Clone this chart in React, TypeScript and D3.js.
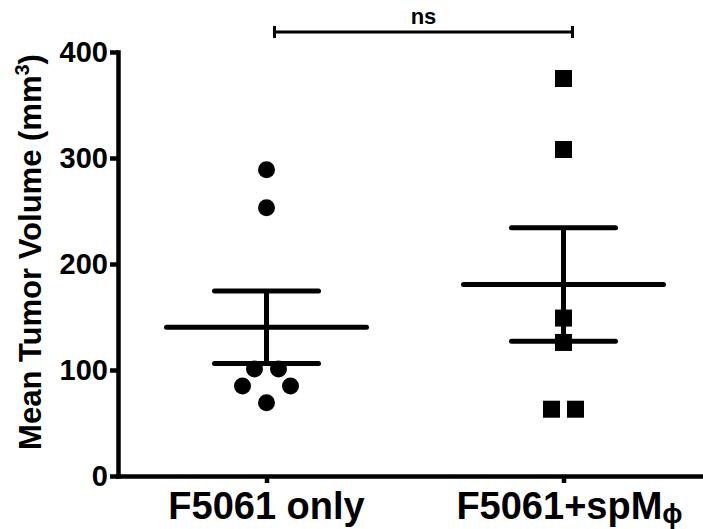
import { useEffect, useMemo, useRef } from "react";
import * as d3 from "d3";

const WIDTH = 703;
const HEIGHT = 529;

// groups shown on the x axis (second one has a subscript phi)
const categories = ["F5061 only", "F5061+spM"];
const categorySubs = ["", "\u03d5"];

// individual tumor volumes (mm3)
const onlyValues = [289, 253, 101, 101, 85, 85, 69];
const spmValues = [375, 308, 149, 126, 63, 63];

const yTicks = [0, 100, 200, 300, 400];
const sigLabel = "ns";

const MARKER = 17;
const MIN_DIST = 20;
const BASE_SPACING = 24;

// spread points with equal values side by side, widen a row if it bumps the row above
const swarm = (values: number[], y: d3.ScaleLinear<number, number>) => {
  const rows = d3.groups(values, (v) => v).sort((a, b) => b[0] - a[0]);
  const placed: { v: number; dx: number; y: number }[] = [];
  for (const [v, items] of rows) {
    const n = items.length;
    let sp = BASE_SPACING;
    let pts: { v: number; dx: number; y: number }[] = [];
    for (let k = 0; k < 10; k++) {
      pts = items.map((_, i) => ({ v, dx: (i - (n - 1) / 2) * sp, y: y(v) }));
      const hit = pts.some((p) =>
        placed.some((q) => Math.hypot(p.dx - q.dx, p.y - q.y) < MIN_DIST)
      );
      if (!hit) break;
      sp += BASE_SPACING;
    }
    placed.push(...pts);
  }
  return placed;
};

const stats = (values: number[]) => {
  const mean = d3.mean(values) || 0;
  const sem = (d3.deviation(values) || 0) / Math.sqrt(values.length);
  return { mean, lo: mean - sem, hi: mean + sem };
};

export default function App() {
  const yAxisRef = useRef<SVGGElement>(null);
  const xAxisRef = useRef<SVGGElement>(null);

  const yScale = useMemo(
    () => d3.scaleLinear().domain([0, 400]).range([476, 52]),
    []
  );
  const xScale = useMemo(
    () => d3.scalePoint<string>().domain(categories).range([118, 712]).padding(0.5),
    []
  );

  useEffect(() => {
    const gy = d3.select(yAxisRef.current);
    gy.selectAll("*").remove();
    gy.call(d3.axisLeft(yScale).tickValues(yTicks).tickSize(8).tickSizeOuter(0).tickPadding(2));
    gy.select(".domain").attr("stroke-width", 4.5).attr("stroke-linecap", "square");
    gy.selectAll(".tick line").attr("stroke-width", 4.5);
    gy.selectAll(".tick text")
      .attr("font-family", "'Liberation Sans', Arial, sans-serif")
      .attr("font-weight", "bold")
      .attr("font-size", 29)
      .attr("fill", "#000");

    const gx = d3.select(xAxisRef.current);
    gx.selectAll("*").remove();
    gx.call(d3.axisBottom(xScale).tickSize(7).tickSizeOuter(0).tickFormat(() => ""));
    gx.select(".domain").attr("stroke-width", 4.5).attr("stroke-linecap", "square");
    gx.selectAll(".tick line").attr("stroke-width", 4.5);
  }, [xScale, yScale]);

  const groups = [onlyValues, spmValues].map((vals, i) => ({
    cx: xScale(categories[i]) || 0,
    pts: swarm(vals, yScale),
    s: stats(vals),
  }));

  const bx0 = (xScale(categories[0]) || 0) + 8;
  const bx1 = (xScale(categories[1]) || 0) + 9;
  const by = 32;

  return (
    <svg
      width={WIDTH}
      height={HEIGHT}
      style={{ position: "absolute", left: 0, top: 0, background: "#fff" }}
      fontFamily="'Liberation Sans', Arial, sans-serif"
      fontWeight="bold"
    >
      {groups.map((g, i) => (
        <g key={i}>
          {g.pts.map((p, j) =>
            i === 0 ? (
              <circle key={j} cx={g.cx + p.dx} cy={p.y} r={MARKER / 2} fill="#000" />
            ) : (
              <rect
                key={j}
                x={g.cx + p.dx - MARKER / 2}
                y={p.y - MARKER / 2}
                width={MARKER}
                height={MARKER}
                fill="#000"
              />
            )
          )}
          <g stroke="#000" strokeWidth={5} strokeLinecap="round">
            <line x1={g.cx - 100} x2={g.cx + 100} y1={yScale(g.s.mean)} y2={yScale(g.s.mean)} />
            <line x1={g.cx} x2={g.cx} y1={yScale(g.s.lo)} y2={yScale(g.s.hi)} strokeLinecap="butt" />
            <line x1={g.cx - 52} x2={g.cx + 52} y1={yScale(g.s.hi)} y2={yScale(g.s.hi)} />
            <line x1={g.cx - 52} x2={g.cx + 52} y1={yScale(g.s.lo)} y2={yScale(g.s.lo)} />
          </g>
        </g>
      ))}

      <g ref={yAxisRef} transform="translate(118,0)" />
      <g ref={xAxisRef} transform="translate(0,476)" />

      {categories.map((c, i) => (
        <text
          key={c}
          x={(xScale(c) || 0) + (categorySubs[i] ? 6 : 0)}
          y={519}
          fontSize={38}
          textAnchor="middle"
          fill="#000"
        >
          {c}
          {categorySubs[i] && (
            <tspan fontSize={27} dy={4}>
              {categorySubs[i]}
            </tspan>
          )}
        </text>
      ))}

      <text
        transform="translate(41,252) rotate(-90)"
        textAnchor="middle"
        fontSize={31}
        fill="#000"
      >
        Mean Tumor Volume (mm
        <tspan fontSize={20} dy={-12}>3</tspan>
        <tspan dy={12}>)</tspan>
      </text>

      <g stroke="#000">
        <line x1={bx0} x2={bx1} y1={by} y2={by} strokeWidth={3} />
        <line x1={bx0} x2={bx0} y1={by - 6} y2={by + 6} strokeWidth={3} />
        <line x1={bx1} x2={bx1} y1={by - 6} y2={by + 6} strokeWidth={3} />
      </g>
      <text x={(bx0 + bx1) / 2} y={24} textAnchor="middle" fontSize={22} fill="#000">
        {sigLabel}
      </text>
    </svg>
  );
}
